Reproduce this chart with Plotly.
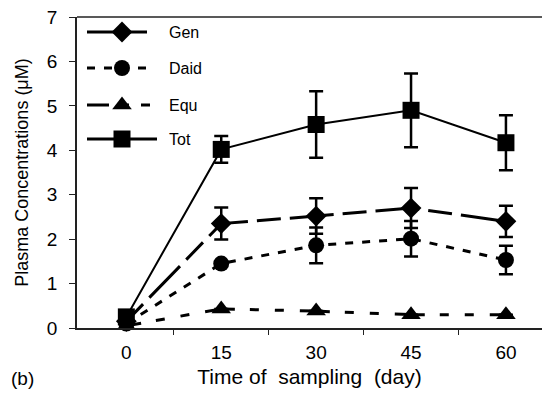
import plotly.graph_objects as go

days = ["0", "15", "30", "45", "60"]
xi = [0, 1, 2, 3, 4]

gen = [0.15, 2.35, 2.52, 2.70, 2.40]
gen_err = [0.0, 0.36, 0.40, 0.45, 0.35]
daid = [0.10, 1.45, 1.86, 2.01, 1.53]
daid_err = [0.0, 0.0, 0.40, 0.40, 0.32]
equ = [0.05, 0.43, 0.38, 0.30, 0.30]
equ_err = [0.0, 0.0, 0.0, 0.0, 0.0]
tot = [0.25, 4.02, 4.58, 4.90, 4.17]
tot_err = [0.0, 0.30, 0.75, 0.83, 0.62]

names = ["Gen", "Daid", "Equ", "Tot"]
symbols = ["diamond", "circle", "triangle-up", "square"]
sizes = [16, 16, 17, 17]
dashes = ["24px,9px,44px,9px", "8px,9px", "15px,15px,9px,16px,9px,16px,15px,0px", "solid"]
leg_dashes = ["30px,10px", "8px,9px", "22px,12px,8px,12px", "solid"]
widths = [3, 3, 3, 2]
leg_widths = [3, 3, 3, 3]

FONT = "Liberation Sans, Arial, sans-serif"
W, H = 542, 397
L, R, T, B = 77, 0, 17, 69
PW, PH = W - L - R, H - T - B

fig = go.Figure()
series = [(equ, equ_err, 2), (daid, daid_err, 1), (gen, gen_err, 0), (tot, tot_err, 3)]
for vals, errs, k in series:
    fig.add_trace(go.Scatter(
        x=xi, y=vals, mode="lines+markers", name=names[k], showlegend=False,
        line=dict(color="black", width=widths[k], dash=dashes[k]),
        marker=dict(symbol=symbols[k], size=sizes[k], color="black"),
        error_y=dict(type="data", array=errs, visible=True, color="black",
                     thickness=2.5, width=7),
        cliponaxis=False,
    ))

# manual legend on an overlay pixel axis
leg_y = [296, 260, 223, 189]
leg_x0, leg_x1 = [10, 10, 10, 10], [70, 75, 73, 80]
for k in range(4):
    fig.add_trace(go.Scatter(
        x=[leg_x0[k], leg_x1[k]], y=[leg_y[k], leg_y[k]], mode="lines",
        line=dict(color="black", width=leg_widths[k], dash=leg_dashes[k]),
        xaxis="x2", yaxis="y2", showlegend=False, hoverinfo="skip"))
    fig.add_trace(go.Scatter(
        x=[45], y=[leg_y[k]], mode="markers",
        marker=dict(symbol=symbols[k], size=sizes[k], color="black"),
        xaxis="x2", yaxis="y2", showlegend=False, hoverinfo="skip"))
    fig.add_annotation(x=90, y=leg_y[k], xref="x2", yref="y2", text=names[k],
                       showarrow=False, xanchor="left", yanchor="middle",
                       font=dict(family=FONT, size=16, color="black"))

fig.add_shape(type="line", xref="paper", yref="paper", x0=0, x1=1, y0=1, y1=1,
              line=dict(color="#222", width=1.5))

fig.add_annotation(x=(9 - L) / PW, y=(328 - 378) / PH, xref="paper", yref="paper",
                   text="(b)", showarrow=False, xanchor="left", yanchor="middle",
                   font=dict(family=FONT, size=19, color="black"))

fig.update_layout(
    width=W, height=H,
    margin=dict(l=L, r=R, t=T, b=B, autoexpand=False),
    paper_bgcolor="white", plot_bgcolor="white",
    font=dict(family=FONT, color="black"),
    xaxis=dict(range=[-0.52, 4.38], tickmode="array", tickvals=xi, ticktext=days,
               ticks="", showgrid=False, zeroline=False, showline=True,
               linecolor="#222", linewidth=1.5, automargin=False,
               tickfont=dict(size=19), ticklabelstandoff=6,
               minor=dict(tickmode="array", tickvals=[0.5, 1.5, 2.5, 3.5],
                          ticks="outside", ticklen=5, tickwidth=1.2, tickcolor="#222",
                          showgrid=False),
               title=dict(text="Time of\u00a0 sampling\u00a0 (day)", font=dict(size=21), standoff=8)),
    yaxis=dict(range=[0, 7], tickmode="array", tickvals=list(range(8)),
               ticks="outside", ticklen=6, tickwidth=1.2, tickcolor="#222",
               showgrid=False, zeroline=False, showline=True, automargin=False,
               linecolor="#222", linewidth=1.5, tickfont=dict(size=19),
               ticklabelstandoff=8,
               title=dict(text="Plasma Concentrations (\u03bcM)", font=dict(size=18), standoff=14)),
    xaxis2=dict(overlaying="x", range=[0, PW], visible=False, fixedrange=True),
    yaxis2=dict(overlaying="y", range=[0, PH], visible=False, fixedrange=True),
)

fig.write_html("out.html", config={"displayModeBar": False},
               post_script="document.body.style.margin='0';document.body.style.overflow='hidden';")
